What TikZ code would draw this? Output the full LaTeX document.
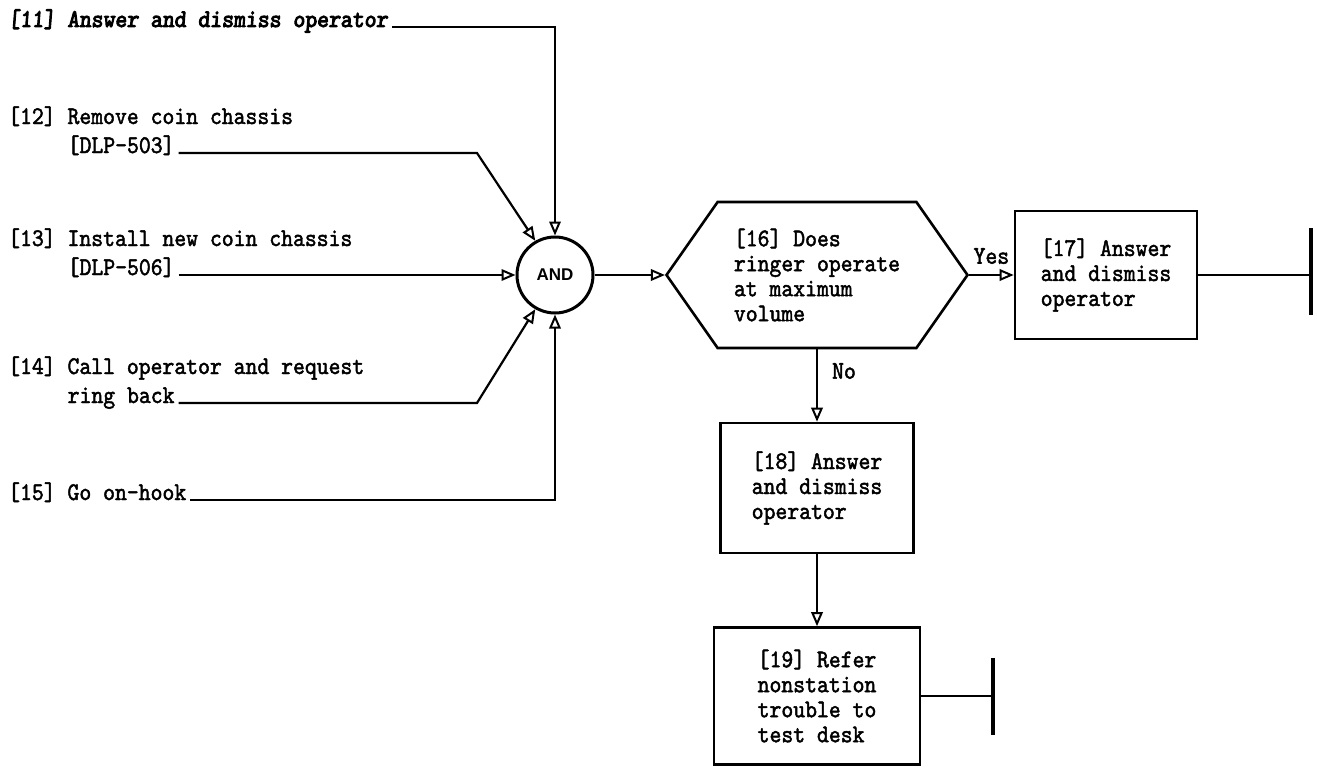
\documentclass[tikz,border=0pt]{standalone}
\usepackage{fontspec}
\usetikzlibrary{arrows.meta,shapes.symbols}
\newfontfamily\tw{lmmono10-regular}[Extension=.otf, FakeBold=1.8, FakeStretch=0.89]
\newfontfamily\twb{lmmono10-regular}[Extension=.otf, FakeBold=3.6, FakeStretch=0.89, FakeSlant=0.08]
\newfontfamily\andfont{Liberation Sans}
\tikzset{
  mono/.style={font=\tw\fontsize{25.4}{25}\selectfont},
  txt/.style={mono, inner sep=0pt, anchor=base west},
  lbl/.style={mono, inner sep=0pt},
  procbox/.style={mono, draw, line width=2.6pt, align=left, inner sep=0pt},
  decision/.style={mono, draw, line width=2.6pt, align=left, inner sep=0pt,
    signal, signal to=east and west, signal pointer angle=110},
  gate/.style={draw, circle, line width=3pt, minimum size=76pt, inner sep=0pt,
    font=\andfont\bfseries\fontsize{17}{17}\selectfont},
  wire/.style={line width=2.2pt},
  arr/.style={wire, -{Triangle[open, length=14pt, width=11.5pt, line width=2pt]}},
  endbar/.style={line width=4.5pt},
}
\begin{document}
\begin{tikzpicture}[x=1pt,y=-1pt]
\useasboundingbox (0,0) rectangle (1317,768);

% left inputs
\node[txt, font=\twb\fontsize{25.4}{25}\selectfont] (t11) at (8,27) {[11] Answer and dismiss operator};
\node[txt] (t12a) at (8,124) {[12] Remove coin chassis};
\node[txt] (t12b) at (67.5,153) {[DLP-503]};
\node[txt] (t13a) at (8,246) {[13] Install new coin chassis};
\node[txt] (t13b) at (67.5,275) {[DLP-506]};
\node[txt] (t14a) at (8,374) {[14] Call operator and request};
\node[txt] (t14b) at (67.5,403) {ring back};
\node[txt] (t15) at (8,500) {[15] Go on-hook};

% gate
\node[gate] (and) at (555,275) {AND};

% bend points
\coordinate (c11) at (555,27);
\coordinate (c12) at (477,153);
\coordinate (c14) at (477,403);
\coordinate (c15) at (555,500);

\draw[arr] ([xshift=4pt]t11.base east) -- (c11) -- (and.north);
\draw[arr] ([xshift=4pt]t12b.base east) -- (c12) -- (and.120);
\draw[arr] ([xshift=4pt]t13b.base east) -- (and.west);
\draw[arr] ([xshift=4pt]t14b.base east) -- (c14) -- (and.240);
\draw[arr] ([xshift=4pt]t15.base east) -- (c15) -- (and.south);

% decision
\node[decision, minimum width=301pt, minimum height=146pt] (q16) at (817,275)
  {[16] Does\\ringer operate\\at maximum\\volume};
\draw[arr] (and.east) -- (q16.west);

% boxes
\node[procbox, minimum width=182pt, minimum height=128pt] (b17) at (1106,275)
  {[17] Answer\\and dismiss\\operator};
\node[procbox, minimum width=193pt, minimum height=130pt] (b18) at (817,488)
  {[18] Answer\\and dismiss\\operator};
\node[procbox, minimum width=206pt, minimum height=137pt] (b19) at (817,696)
  {[19] Refer\\nonstation\\trouble to\\test desk};

\draw[arr] (q16.east) -- node[lbl, above=10pt] (yes) {Yes} (b17.west);
\draw[arr] (q16.south) -- node[lbl, right=14pt, pos=0.3] (no) {No} (b18.north);
\draw[arr] (b18.south) -- (b19.north);

% terminators
\coordinate (e17) at (1311,275);
\coordinate (e19) at (993,696);
\draw[wire] (b17.east) -- (e17);
\draw[endbar] (e17) ++(0,-47) -- ++(0,87);
\draw[wire] (b19.east) -- (e19);
\draw[endbar] (e19) ++(0,-38) -- ++(0,77);
\end{tikzpicture}
\end{document}
